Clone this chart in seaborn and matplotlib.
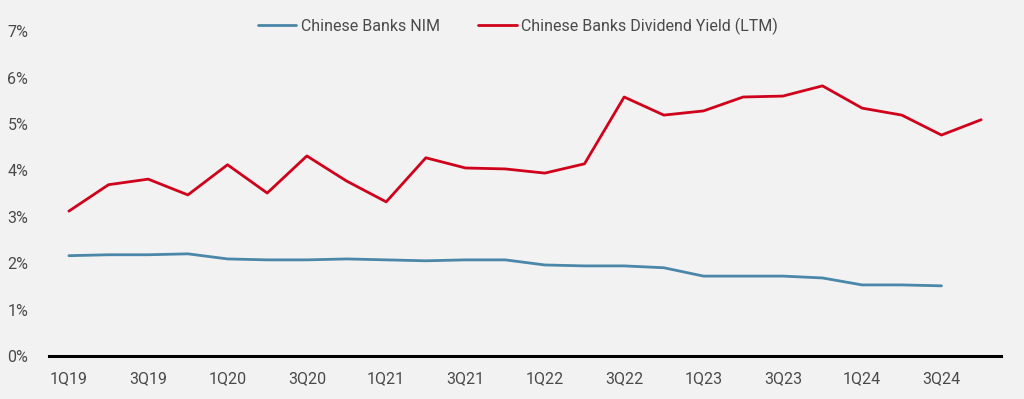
import matplotlib
matplotlib.use("Agg")
import matplotlib.pyplot as plt
import seaborn as sns
import pandas as pd
import numpy as np
from matplotlib.ticker import FuncFormatter

quarters = [f"{q}Q{y}" for y in range(19, 25) for q in range(1, 5)]
nim = [2.16, 2.18, 2.18, 2.20, 2.09, 2.07, 2.07, 2.09, 2.07, 2.05, 2.07, 2.07,
       1.96, 1.94, 1.94, 1.90, 1.72, 1.72, 1.72, 1.68, 1.53, 1.53, 1.51]
div_yield = [3.12, 3.69, 3.81, 3.47, 4.12, 3.51, 4.31, 3.77, 3.32, 4.27, 4.05, 4.03,
             3.94, 4.14, 5.58, 5.19, 5.28, 5.58, 5.60, 5.82, 5.34, 5.19, 4.76, 5.09]
series_names = ["Chinese Banks NIM", "Chinese Banks Dividend Yield (LTM)"]
yticks = [0, 1, 2, 3, 4, 5, 6, 7]

sns.set_theme(style="white")
plt.rcParams['font.family'] = ['Roboto', 'DejaVu Sans']
plt.rcParams['font.weight'] = 'normal'

bg = "#f2f2f2"
txt = "#4a4a4a"
fig = plt.figure(figsize=(10.24, 3.99), dpi=100, facecolor=bg)
ax = fig.add_axes([0.0479, 0.108, 0.9296, 0.814])
ax.set_facecolor(bg)

df_nim = pd.DataFrame({"x": np.arange(len(nim)), "y": nim})
df_div = pd.DataFrame({"x": np.arange(len(div_yield)), "y": div_yield})
sns.lineplot(data=df_nim, x="x", y="y", ax=ax, color="#4a87a8", lw=2.0, label=series_names[0])
sns.lineplot(data=df_div, x="x", y="y", ax=ax, color="#d0021b", lw=2.0, label=series_names[1])

ax.set_xlim(-0.5, len(quarters) - 0.5)
ax.set_ylim(0, 7)
ax.set_yticks(yticks)
ax.yaxis.set_major_formatter(FuncFormatter(lambda v, p: f"{int(v)}%"))
ax.set_xticks(np.arange(0, len(quarters), 2))
ax.set_xticklabels(quarters[::2])
ax.set_xlabel("")
ax.set_ylabel("")
ax.tick_params(axis='both', length=0, labelsize=11.5, labelcolor=txt)
ax.tick_params(axis='y', pad=15)
ax.tick_params(axis='x', pad=11)
for s in ["top", "right", "left"]:
    ax.spines[s].set_visible(False)
ax.spines["bottom"].set_color("black")
ax.spines["bottom"].set_linewidth(2.2)

leg = ax.legend(loc="center", bbox_to_anchor=(0.506, 0.935), bbox_transform=fig.transFigure,
                ncol=2, frameon=False, fontsize=11.5, handlelength=2.4, columnspacing=2.4,
                handletextpad=0.3)
for t in leg.get_texts():
    t.set_color(txt)

fig.savefig("out.png", dpi=100, facecolor=bg)
